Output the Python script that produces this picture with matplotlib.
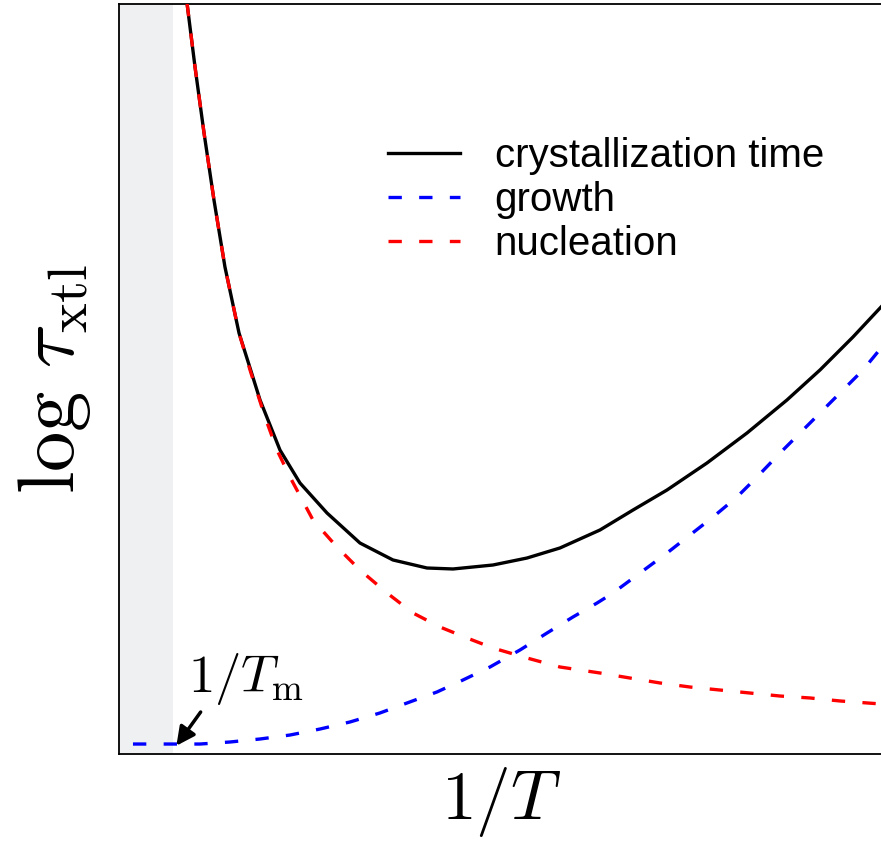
import numpy as np
import matplotlib
matplotlib.use('Agg')
import matplotlib.pyplot as plt

plt.rcParams['mathtext.fontset'] = 'cm'
plt.rcParams['font.family'] = ['Liberation Sans', 'DejaVu Sans']

# growth time (blue); x is 1/T, y is log tau, both in arbitrary units 0-100
growth_x = [1.83, 6.68, 10.60, 14.53, 18.46, 22.38, 26.31, 30.24, 34.16, 37.70,
            41.62, 45.03, 48.56, 52.49, 56.02, 59.42, 62.57, 64.66, 68.19, 71.73,
            74.74, 77.75, 80.89, 83.51, 86.52, 89.14, 92.15, 94.76, 97.38, 99.74]
growth_y = [1.33, 1.33, 1.33, 1.60, 2.00, 2.53, 3.33, 4.27, 5.47, 6.80,
            8.27, 9.87, 11.60, 13.87, 16.13, 18.27, 20.13, 21.47, 24.13, 26.80,
            29.20, 31.60, 34.27, 36.93, 40.13, 42.80, 45.87, 48.53, 51.20, 54.13]

# nucleation time (red)
nucl_x = [8.90, 9.95, 11.13, 12.43, 13.87, 15.71, 17.15, 19.11, 20.68, 22.38,
          25.39, 28.53, 31.54, 35.08, 38.48, 42.02, 45.55, 48.95, 53.40, 57.72,
          62.96, 66.88, 70.81, 74.74, 78.66, 82.59, 86.52, 90.45, 94.37, 99.74]
nucl_y = [100.13, 91.60, 82.80, 73.87, 64.93, 56.13, 51.20, 44.93, 40.53, 36.93,
          31.20, 27.60, 24.53, 21.47, 18.80, 16.93, 15.47, 14.13, 12.80, 11.60,
          10.80, 10.13, 9.47, 8.93, 8.53, 8.13, 7.73, 7.47, 7.07, 6.67]

# total crystallization time (black)
xtl_x = [8.90, 9.95, 11.13, 12.43, 13.87, 15.71, 17.15, 18.46, 21.07, 23.69,
         27.23, 31.54, 35.86, 40.31, 43.72, 48.95, 53.40, 57.72, 62.96, 67.28,
         71.73, 76.96, 82.20, 87.43, 91.75, 96.07, 99.74]
xtl_y = [100.13, 91.60, 82.80, 73.87, 64.93, 56.13, 51.47, 47.20, 40.53, 36.13,
         32.13, 28.13, 25.87, 24.80, 24.67, 25.20, 26.13, 27.47, 29.87, 32.53,
         35.20, 38.80, 42.80, 47.20, 51.20, 55.60, 59.60]

x_melt = 7.1  # 1/Tm

fig = plt.figure(figsize=(8.81, 8.51), dpi=100)
ax = fig.add_axes([119/881, 97/851, 764/881, 750/851])

ax.axvspan(0, x_melt, color='#eff0f2', lw=0, zorder=0)

dash = (0, (4, 5.2))
ax.plot(xtl_x, xtl_y, color='black', lw=2.4, label='crystallization time', zorder=3)
ax.plot(growth_x, growth_y, color='blue', lw=2.4, ls=dash, label='growth', zorder=4)
ax.plot(nucl_x, nucl_y, color='red', lw=2.4, ls=dash, label='nucleation', zorder=4)

ax.set_xlim(0, 100)
ax.set_ylim(0, 100)
ax.set_xticks([])
ax.set_yticks([])
for s in ax.spines.values():
    s.set_linewidth(1.3)

ax.set_xlabel(r'$1/T$', fontsize=50, labelpad=8)
ax.set_ylabel(r'$\log\,\tau_{\rm xtl}$', fontsize=58, labelpad=19)

ax.annotate('', xy=(7.3, 0.8), xytext=(10.9, 5.9),
            arrowprops=dict(arrowstyle='-|>', color='black', lw=2.5, mutation_scale=28))
ax.text(9.0, 8.3, r'$1/T_{\rm m}$', fontsize=38, ha='left', va='baseline')

ax.legend(loc='upper left', bbox_to_anchor=(0.352, 0.823), frameon=False,
          fontsize=29, handlelength=1.8, handletextpad=0.85, labelspacing=0.15,
          borderpad=0, borderaxespad=0)

fig.savefig('out.png', dpi=100)
